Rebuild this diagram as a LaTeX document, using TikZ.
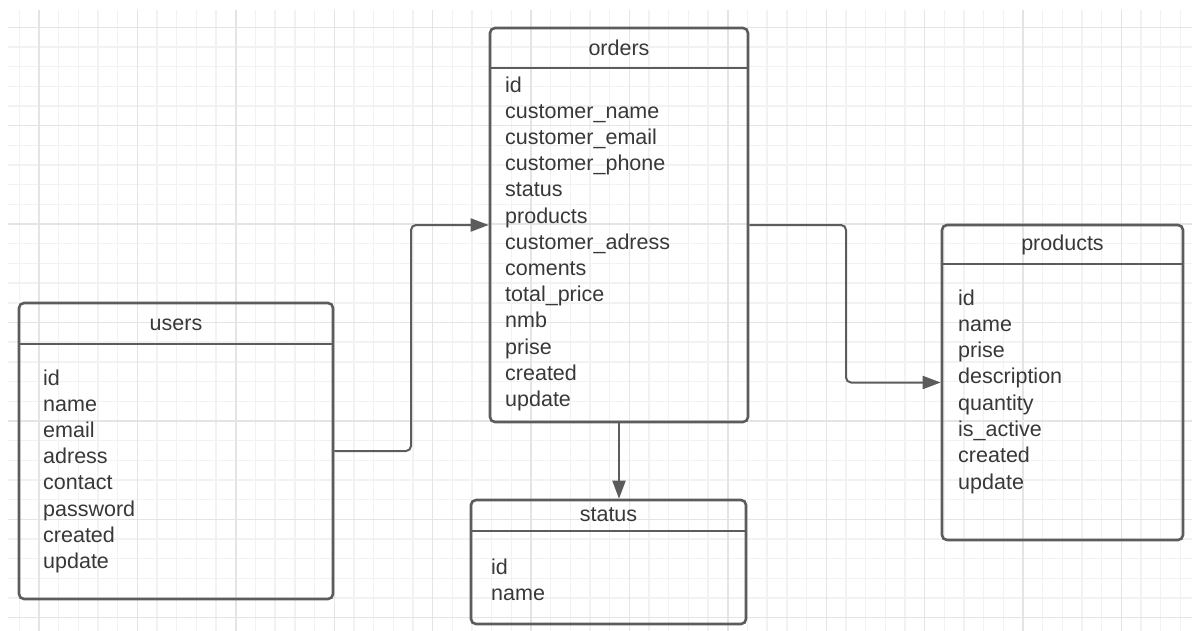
\documentclass[tikz,border=0pt]{standalone}
\usepackage{fontspec}
\setmainfont{Liberation Sans}
\usetikzlibrary{arrows.meta}
\definecolor{gridminor}{HTML}{F2F2F2}
\definecolor{gridmajor}{HTML}{E4E4E4}
\definecolor{edge}{HTML}{5C5C5C}
\definecolor{txt}{HTML}{383838}
\tikzset{
  x=1pt, y=-1pt,
  tablebox/.style={draw=edge, line width=2.6pt, rounded corners=5pt, fill=none,
    inner sep=0pt, minimum width=#1},
  divider/.style={draw=edge, line width=2.6pt},
  conn/.style={draw=edge, line width=2pt, rounded corners=5pt,
    -{Triangle[length=18pt,width=13pt]}},
  title/.style={font=\fontsize{21.5}{26}\selectfont, text=txt, anchor=base, inner sep=0pt},
  row/.style={font=\fontsize{21.5}{26}\selectfont, text=txt, anchor=base west, inner sep=0pt},
}
\begin{document}
\begin{tikzpicture}
\useasboundingbox (0,0) rectangle (1192,630);
% grid
\begin{scope}
\clip (8,10) rectangle (1192,630);
\foreach \k in {-2,...,60} {
  \pgfmathsetmacro{\gx}{39+\k*19.68}
  \draw[gridminor, line width=1.4pt] (\gx,0) -- (\gx,640);
}
\foreach \k in {-2,...,32} {
  \pgfmathsetmacro{\gy}{27.3+\k*19.68}
  \draw[gridminor, line width=1.4pt] (0,\gy) -- (1200,\gy);
}
\foreach \k in {0,...,12} {
  \pgfmathsetmacro{\gx}{39+\k*98.4}
  \draw[gridmajor, line width=1.4pt] (\gx,0) -- (\gx,640);
}
\foreach \k in {0,...,6} {
  \pgfmathsetmacro{\gy}{27.3+\k*98.4}
  \draw[gridmajor, line width=1.4pt] (0,\gy) -- (1200,\gy);
}
\end{scope}

% boxes
\node[tablebox=314pt, minimum height=296pt] (users) at (176,451) {};
\node[tablebox=258pt, minimum height=394pt] (orders) at (619,225) {};
\node[tablebox=275pt, minimum height=124pt] (status) at (608.5,562) {};
\node[tablebox=241pt, minimum height=315pt] (products) at (1062.5,382.5) {};

\draw[divider] (users.west |- 0,344) -- (users.east |- 0,344);
\draw[divider] (orders.west |- 0,68) -- (orders.east |- 0,68);
\draw[divider] (status.west |- 0,531) -- (status.east |- 0,531);
\draw[divider] (products.west |- 0,264) -- (products.east |- 0,264);

% titles
\node[title] (users-title) at (176,330) {users};
\node[title] (orders-title) at (619,55) {orders};
\node[title] (status-title) at (608.5,521) {status};
\node[title] (products-title) at (1062.5,250) {products};

% rows
\foreach \t [count=\i from 0] in {id,name,email,adress,contact,password,created,update}
  \node[row] (users-r\i) at (43,385+\i*26.2) {\t};
\foreach \t [count=\i from 0] in {id,customer\_name,customer\_email,customer\_phone,status,products,customer\_adress,coments,total\_price,nmb,prise,created,update}
  \node[row] (orders-r\i) at (505,92+\i*26.2) {\t};
\foreach \t [count=\i from 0] in {id,name}
  \node[row] (status-r\i) at (491,574+\i*26.2) {\t};
\foreach \t [count=\i from 0] in {id,name,prise,description,quantity,is\_active,created,update}
  \node[row] (products-r\i) at (958,305+\i*26.3) {\t};

% connectors
\coordinate (m1) at (411,0);
\coordinate (m2) at (846,0);
\draw[conn] (users.east) -| (m1 |- orders.west) -- (orders.west);
\draw[conn] (orders.east) -| (m2 |- products.west) -- (products.west);
\draw[conn] (orders.south) -- (orders.south |- status.north);
\end{tikzpicture}
\end{document}
